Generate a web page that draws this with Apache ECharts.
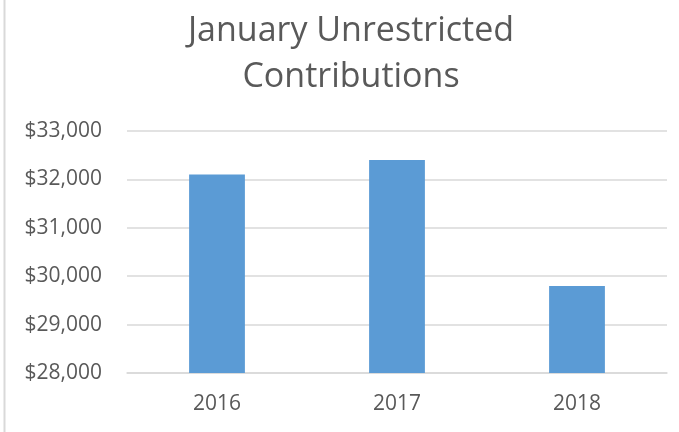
<!DOCTYPE html>
<html>
<head>
<meta charset="utf-8">
<script src="https://cdn.jsdelivr.net/npm/echarts@6/dist/echarts.min.js"></script>
<style>
  html, body { margin: 0; padding: 0; background: #fff; }
  #chart { width: 679px; height: 432px; }
</style>
</head>
<body>
<div id="chart"></div>
<script>
const years = ['2016', '2017', '2018'];
const contributions = [32100, 32400, 29800];

const chart = echarts.init(document.getElementById('chart'));

const fmt = v => '$' + v.toLocaleString('en-US');

chart.setOption({
  animation: false,
  backgroundColor: '#ffffff',
  title: {
    text: 'January Unrestricted\nContributions',
    left: 346,
    top: 3,
    textAlign: 'center',
    textStyle: {
      fontFamily: 'Open Sans',
      fontWeight: 'normal',
      fontSize: 34,
      lineHeight: 46,
      color: '#595959',
    },
  },
  graphic: [{
    type: 'line',
    shape: { x1: 4.5, y1: 0, x2: 4.5, y2: 432 },
    style: { stroke: '#d9d9d9', lineWidth: 2 },
  }],
  grid: { left: 127, right: 12, top: 131, bottom: 59 },
  xAxis: {
    type: 'category',
    data: years,
    axisLine: { show: true, lineStyle: { color: '#d9d9d9', width: 1.5 } },
    axisTick: { show: false },
    axisLabel: { color: '#595959', fontSize: 21, fontFamily: 'Open Sans', margin: 21 },
  },
  yAxis: {
    type: 'value',
    min: 28000,
    max: 33000,
    interval: 1000,
    axisLine: { show: false },
    axisTick: { show: false },
    axisLabel: { color: '#595959', fontSize: 21, fontFamily: 'Open Sans', margin: 25, formatter: fmt },
    splitLine: { lineStyle: { color: '#d9d9d9', width: 1.5 } },
  },
  series: [{
    type: 'bar',
    data: contributions,
    barWidth: '31%',
    itemStyle: { color: '#5b9bd5' },
  }],
});
</script>
</body>
</html>
